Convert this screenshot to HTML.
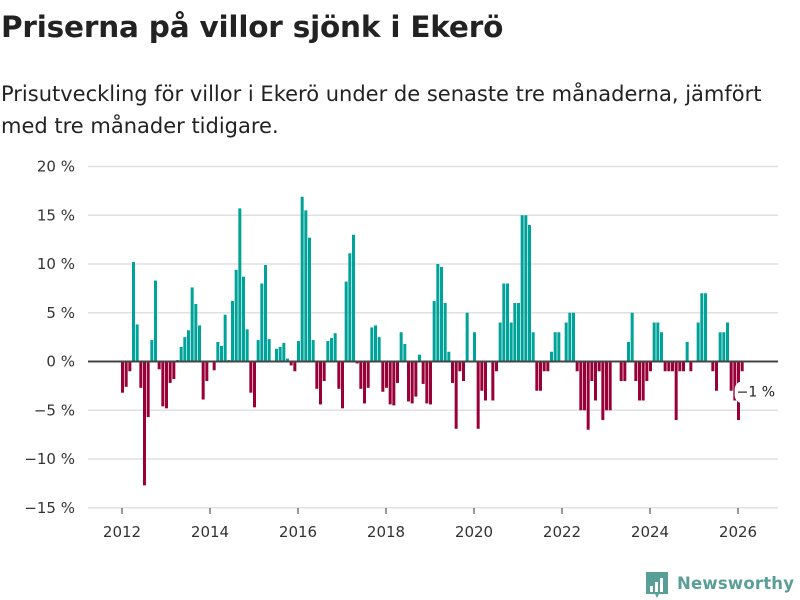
<!DOCTYPE html>
<html><head><meta charset="utf-8"><style>
body{margin:0;background:#fff;font-family:"DejaVu Sans","Liberation Sans",sans-serif;}
#wrap{position:relative;width:800px;height:600px;overflow:hidden;}
h1{position:absolute;left:1px;top:10px;margin:0;font-size:29.5px;font-weight:bold;color:#222;letter-spacing:-0.2px;}
p{position:absolute;left:1px;top:78px;margin:0;font-size:21px;line-height:32px;color:#222;width:799px;white-space:nowrap;}
svg{position:absolute;left:0;top:0;}
</style></head><body>
<div id="wrap">
<h1>Priserna på villor sjönk i Ekerö</h1>
<p>Prisutveckling för villor i Ekerö under de senaste tre månaderna, jämfört<br>med tre månader tidigare.</p>
<svg id="chart" width="800" height="600"></svg>
</div>
<script>
const startYear = 2012;
const values = [
-3.2,-2.6,-1.0,10.2,3.8,-2.7,-12.7,-5.7,2.2,8.3,-0.8,-4.6,
-4.8,-2.2,-1.8,0.15,1.5,2.5,3.2,7.6,5.9,3.7,-3.9,-2.0,
0,-0.9,2.0,1.6,4.8,0.15,6.2,9.4,15.7,8.7,3.3,-3.2,
-4.7,2.2,8.0,9.9,2.3,0,1.3,1.5,1.9,0.3,-0.4,-1.0,
2.1,16.9,15.5,12.7,2.2,-2.8,-4.4,-2.0,2.1,2.4,2.9,-2.8,
-4.8,8.2,11.1,13.0,-0.2,-2.8,-4.3,-2.7,3.5,3.7,2.5,-3.1,
-2.7,-4.4,-4.5,-2.2,3.0,1.8,-4.1,-4.3,-3.6,0.7,-2.3,-4.3,
-4.4,6.2,10.0,9.7,6.0,1.0,-2.2,-6.9,-1.0,-2.0,5.0,0,
3.0,-6.9,-3.0,-4.0,0,-4.0,-1.0,4.0,8.0,8.0,4.0,6.0,
6.0,15,15,14,3.0,-3.0,-3.0,-1.0,-1.0,1.0,3.0,3.0,
0,4.0,5.0,5.0,-1.0,-5.0,-5.0,-7.0,-2.0,-4.0,-1.0,-6.0,
-5.0,-5.0,0,0,-2.0,-2.0,2.0,5.0,-2.0,-4.0,-4.0,-2.0,
-1.0,4.0,4.0,3.0,-1.0,-1.0,-1.0,-6.0,-1.0,-1.0,2.0,-1.0,
0,4.0,7.0,7.0,0,-1.0,-3.0,3.0,3.0,4.0,-3.0,-4.0,
-6.0,-1.0
];
const yTicks = [20,15,10,5,0,-5,-10,-15];
const xTicks = [2012,2014,2016,2018,2020,2022,2024,2026];
const lastLabel = "−1 %";

const svg = document.getElementById('chart');
const NS = 'http://www.w3.org/2000/svg';
const FONT = 'DejaVu Sans, Liberation Sans, sans-serif';
const y = v => 361.5 - v * 9.75;
const x = t => 122 + (t - startYear) * 44;
function mk(tag, attrs){const e=document.createElementNS(NS,tag);for(const k in attrs)e.setAttribute(k,attrs[k]);svg.appendChild(e);return e;}

yTicks.forEach(v=>{
  const g = mk('line',{x1:88,x2:778,y1:y(v),y2:y(v),stroke:'#e0e0e0','stroke-width':1.5});
  
  
  const t = mk('text',{x:75,y:y(v)+5,'text-anchor':'end','font-size':15,fill:'#333','font-family':FONT});
  t.textContent = (v<0?'−'+(-v):v)+' %';
  
  
});
xTicks.forEach(yr=>{
  const tk = mk('line',{x1:x(yr),x2:x(yr),y1:508,y2:514,stroke:'#333','stroke-width':1});
  
  
  const t = mk('text',{x:x(yr),y:537,'text-anchor':'middle','font-size':15,fill:'#333','font-family':FONT});
  t.textContent = yr;
  
  
});
values.forEach((v,i)=>{
  const t = startYear + i/12;
  const top = Math.min(y(v), y(0)), h = Math.abs(y(v)-y(0));
  const r = mk('rect',{x:x(t)-1,y:top,width:3,height:Math.max(h,0.01),fill:v>=0?'#00a39a':'#990038'});
  
  
});
const zl = mk('line',{x1:88,x2:778,y1:y(0),y2:y(0),stroke:'#444','stroke-width':2});


const li = values.length-1, lx = x(startYear+li/12);
const bg = mk('rect',{x:lx-7,y:y(values[li])+10,width:16,height:22,rx:8,fill:'#fff'});


const lt = mk('text',{x:lx-5,y:y(values[li])+25,'font-size':14,fill:'#222','font-family':FONT});
lt.textContent = lastLabel;


const lg = mk('g',{});


const box = document.createElementNS(NS,'path');
box.setAttribute('d','M646 572 h22 v22 h-9 l-2 4 l-2 -4 h-9 z');box.setAttribute('fill','#5a9e98');lg.appendChild(box);
[[650,586,3,6],[655,582,3,10],[660,578,3,14]].forEach(b=>{const r=document.createElementNS(NS,'rect');r.setAttribute('x',b[0]);r.setAttribute('y',b[1]);r.setAttribute('width',b[2]);r.setAttribute('height',b[3]);r.setAttribute('fill','#fff');lg.appendChild(r);});
const lgt = document.createElementNS(NS,'text');
lgt.setAttribute('x',677);lgt.setAttribute('y',589);lgt.setAttribute('font-size',16.5);lgt.setAttribute('font-weight','bold');lgt.setAttribute('fill','#5a9e98');lgt.setAttribute('font-family',FONT);
lgt.setAttribute('textLength',117);
lgt.textContent='Newsworthy';lg.appendChild(lgt);
svg.appendChild(lg);
</script>
</body></html>
